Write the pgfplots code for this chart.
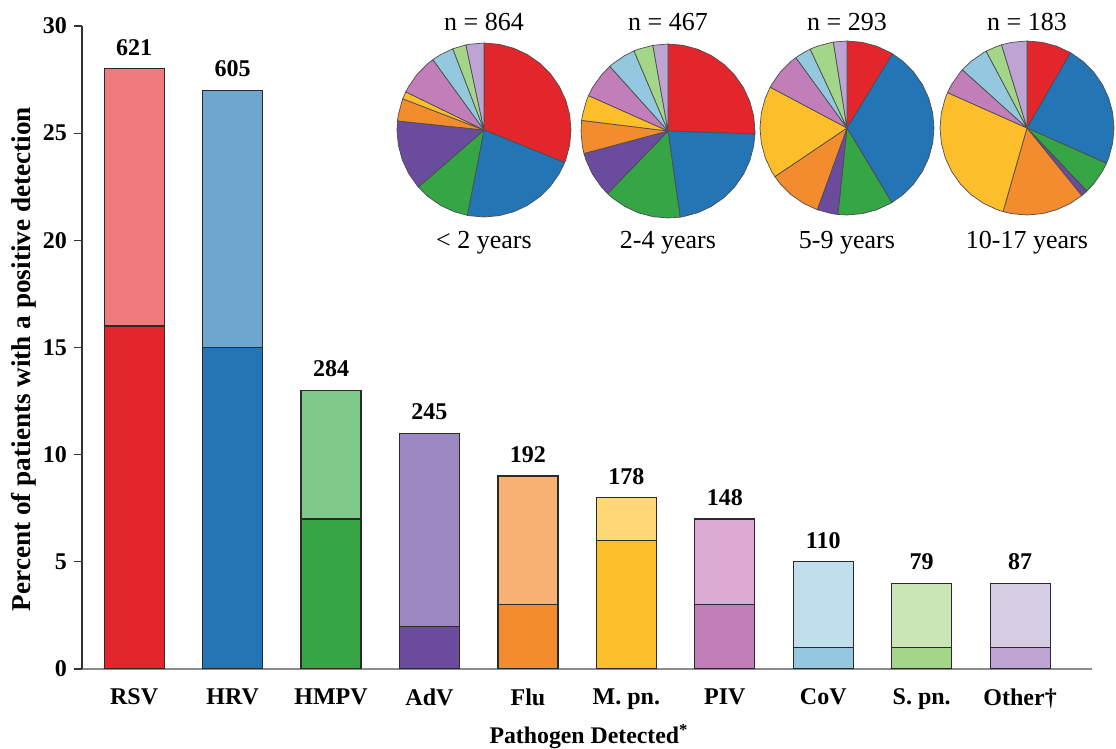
\documentclass[border=0pt]{standalone}
\usepackage{fontspec}
\setmainfont{Liberation Serif}
\usepackage{pgfplots}
\pgfplotsset{compat=1.18}
\usepgfplotslibrary{polar}

\definecolor{rsvD}{HTML}{E3262B}\definecolor{rsvL}{HTML}{EF7B7E}
\definecolor{hrvD}{HTML}{2475B5}\definecolor{hrvL}{HTML}{6EA6D0}
\definecolor{hmpD}{HTML}{35A546}\definecolor{hmpL}{HTML}{7FC98A}
\definecolor{advD}{HTML}{6A4B9E}\definecolor{advL}{HTML}{9C87C2}
\definecolor{fluD}{HTML}{F28C2E}\definecolor{fluL}{HTML}{F8B074}
\definecolor{mpnD}{HTML}{FDBE2C}\definecolor{mpnL}{HTML}{FED877}
\definecolor{pivD}{HTML}{C27EB9}\definecolor{pivL}{HTML}{DCAAD5}
\definecolor{covD}{HTML}{93C8DF}\definecolor{covL}{HTML}{C0DEEB}
\definecolor{spnD}{HTML}{A4D68A}\definecolor{spnL}{HTML}{CBE6B6}
\definecolor{othD}{HTML}{BDA4D2}\definecolor{othL}{HTML}{D6CCE4}
\definecolor{barline}{HTML}{2A2A2A}

\pgfplotsset{
  tot/.style={ybar, bar width=0.61, bar shift=0pt, draw=barline, line width=0.6pt,
    nodes near coords, point meta=explicit symbolic,
    every node near coord/.append style={font=\fontsize{12}{14}\selectfont\bfseries, yshift=3pt}},
  bot/.style={ybar, bar width=0.61, bar shift=0pt, draw=barline, line width=0.6pt},
  wedge/.style={draw=black!70, line width=0.35pt, line join=round, mark=none},
  pie/.style={scale only axis, width=87pt, height=87pt, anchor=center,
    xmin=0, xmax=360, ymin=0, ymax=1, hide axis, clip=false},
}

\begin{document}
\begin{tikzpicture}
\path[use as bounding box] (-41pt,-40pt) rectangle (517pt,334.5pt);
\begin{axis}[
  at={(0,0)}, anchor=south west,
  scale only axis, width=505pt, height=321.5pt,
  xmin=-0.53, xmax=9.73, ymin=0, ymax=30,
  axis x line*=bottom, axis y line*=left,
  axis line style={-},
  x axis line style={draw=black!45, line width=0.8pt},
  y axis line style={draw=black!80, line width=0.6pt},
  xtick={0,...,9},
  xticklabels={RSV,HRV,HMPV,AdV,Flu,M. pn.,PIV,CoV,S. pn.,Other†},
  x tick style={draw=none},
  ytick={0,5,...,30},
  tick align=outside, major tick length=4pt,
  y tick style={draw=black!80, line width=0.6pt},
  /pgf/number format/assume math mode=true,
  ticklabel style={font=\fontsize{12}{14}\selectfont\bfseries},
  x tick label style={yshift=-2.5pt},
  ylabel={Percent of patients with a positive detection},
  xlabel={Pathogen Detected\textsuperscript{*}},
  y label style={at={(axis description cs:-0.0574,0.482)}, anchor=center, font=\fontsize{13.6}{15}\selectfont\bfseries},
  x label style={at={(axis description cs:0.502,-0.105)}, anchor=center, font=\fontsize{11.9}{14}\selectfont\bfseries},
]
% totals (light) with counts
\addplot[tot, fill=rsvL] coordinates {(0,28) [621]};
\addplot[tot, fill=hrvL] coordinates {(1,27) [605]};
\addplot[tot, fill=hmpL] coordinates {(2,13) [284]};
\addplot[tot, fill=advL] coordinates {(3,11) [245]};
\addplot[tot, fill=fluL] coordinates {(4,9) [192]};
\addplot[tot, fill=mpnL] coordinates {(5,8) [178]};
\addplot[tot, fill=pivL] coordinates {(6,7) [148]};
\addplot[tot, fill=covL] coordinates {(7,5) [110]};
\addplot[tot, fill=spnL] coordinates {(8,4) [79]};
\addplot[tot, fill=othL] coordinates {(9,4) [87]};
% lower (dark) segments
\addplot[bot, fill=rsvD] coordinates {(0,16)};
\addplot[bot, fill=hrvD] coordinates {(1,15)};
\addplot[bot, fill=hmpD] coordinates {(2,7)};
\addplot[bot, fill=advD] coordinates {(3,2)};
\addplot[bot, fill=fluD] coordinates {(4,3)};
\addplot[bot, fill=mpnD] coordinates {(5,6)};
\addplot[bot, fill=pivD] coordinates {(6,3)};
\addplot[bot, fill=covD] coordinates {(7,1)};
\addplot[bot, fill=spnD] coordinates {(8,1)};
\addplot[bot, fill=othD] coordinates {(9,1)};
\end{axis}

% Pie 1: < 2 years
\begin{polaraxis}[pie, at={(201pt,269.5pt)}]
\addplot[wedge, fill=rsvD] coordinates {(0,0) (90,1)(80,1)(70,1)(60,1)(50,1)(40,1)(30,1)(20,1)(10,1)(0,1)(350,1)(340,1)(338,1) (0,0)};
\addplot[wedge, fill=hrvD] coordinates {(0,0) (338,1)(330,1)(320,1)(310,1)(300,1)(290,1)(280,1)(270,1)(260,1)(259,1) (0,0)};
\addplot[wedge, fill=hmpD] coordinates {(0,0) (259,1)(250,1)(240,1)(230,1)(221,1) (0,0)};
\addplot[wedge, fill=advD] coordinates {(0,0) (221,1)(220,1)(210,1)(200,1)(190,1)(180,1)(174,1) (0,0)};
\addplot[wedge, fill=fluD] coordinates {(0,0) (174,1)(170,1)(160,1)(159,1) (0,0)};
\addplot[wedge, fill=mpnD] coordinates {(0,0) (159,1)(154,1) (0,0)};
\addplot[wedge, fill=pivD] coordinates {(0,0) (154,1)(150,1)(140,1)(130,1)(126,1) (0,0)};
\addplot[wedge, fill=covD] coordinates {(0,0) (126,1)(120,1)(111,1) (0,0)};
\addplot[wedge, fill=spnD] coordinates {(0,0) (111,1)(102,1) (0,0)};
\addplot[wedge, fill=othD] coordinates {(0,0) (102,1)(100,1)(90,1) (0,0)};
\end{polaraxis}

% Pie 2: 2-4 years
\begin{polaraxis}[pie, at={(293pt,269pt)}]
\addplot[wedge, fill=rsvD] coordinates {(0,0) (90,1)(80,1)(70,1)(60,1)(50,1)(40,1)(30,1)(20,1)(10,1)(0,1)(358,1) (0,0)};
\addplot[wedge, fill=hrvD] coordinates {(0,0) (358,1)(350,1)(340,1)(330,1)(320,1)(310,1)(300,1)(290,1)(280,1)(278,1) (0,0)};
\addplot[wedge, fill=hmpD] coordinates {(0,0) (278,1)(270,1)(260,1)(250,1)(240,1)(230,1)(226,1) (0,0)};
\addplot[wedge, fill=advD] coordinates {(0,0) (226,1)(220,1)(210,1)(200,1)(195,1) (0,0)};
\addplot[wedge, fill=fluD] coordinates {(0,0) (195,1)(190,1)(180,1)(173,1) (0,0)};
\addplot[wedge, fill=mpnD] coordinates {(0,0) (173,1)(170,1)(160,1)(156,1) (0,0)};
\addplot[wedge, fill=pivD] coordinates {(0,0) (156,1)(150,1)(140,1)(132,1) (0,0)};
\addplot[wedge, fill=covD] coordinates {(0,0) (132,1)(130,1)(120,1)(113,1) (0,0)};
\addplot[wedge, fill=spnD] coordinates {(0,0) (113,1)(110,1)(100,1) (0,0)};
\addplot[wedge, fill=othD] coordinates {(0,0) (100,1)(90,1) (0,0)};
\end{polaraxis}

% Pie 3: 5-9 years
\begin{polaraxis}[pie, at={(382.5pt,270.5pt)}]
\addplot[wedge, fill=rsvD] coordinates {(0,0) (90,1)(80,1)(70,1)(60,1)(58.5,1) (0,0)};
\addplot[wedge, fill=hrvD] coordinates {(0,0) (58.5,1)(50,1)(40,1)(30,1)(20,1)(10,1)(0,1)(350,1)(340,1)(330,1)(320,1)(310,1)(301,1) (0,0)};
\addplot[wedge, fill=hmpD] coordinates {(0,0) (301,1)(300,1)(290,1)(280,1)(270,1)(264,1) (0,0)};
\addplot[wedge, fill=advD] coordinates {(0,0) (264,1)(260,1)(250,1) (0,0)};
\addplot[wedge, fill=fluD] coordinates {(0,0) (250,1)(240,1)(230,1)(220,1)(214,1) (0,0)};
\addplot[wedge, fill=mpnD] coordinates {(0,0) (214,1)(210,1)(200,1)(190,1)(180,1)(170,1)(160,1)(152,1) (0,0)};
\addplot[wedge, fill=pivD] coordinates {(0,0) (152,1)(150,1)(140,1)(130,1)(126,1) (0,0)};
\addplot[wedge, fill=covD] coordinates {(0,0) (126,1)(120,1)(115,1) (0,0)};
\addplot[wedge, fill=spnD] coordinates {(0,0) (115,1)(110,1)(100,1)(99,1) (0,0)};
\addplot[wedge, fill=othD] coordinates {(0,0) (99,1)(90,1) (0,0)};
\end{polaraxis}

% Pie 4: 10-17 years
\begin{polaraxis}[pie, at={(472.5pt,270.5pt)}]
\addplot[wedge, fill=rsvD] coordinates {(0,0) (90,1)(80,1)(70,1)(60,1) (0,0)};
\addplot[wedge, fill=hrvD] coordinates {(0,0) (60,1)(50,1)(40,1)(30,1)(20,1)(10,1)(0,1)(350,1)(340,1)(336,1) (0,0)};
\addplot[wedge, fill=hmpD] coordinates {(0,0) (336,1)(330,1)(320,1)(313.5,1) (0,0)};
\addplot[wedge, fill=advD] coordinates {(0,0) (313.5,1)(309,1) (0,0)};
\addplot[wedge, fill=fluD] coordinates {(0,0) (309,1)(300,1)(290,1)(280,1)(270,1)(260,1)(254,1) (0,0)};
\addplot[wedge, fill=mpnD] coordinates {(0,0) (254,1)(250,1)(240,1)(230,1)(220,1)(210,1)(200,1)(190,1)(180,1)(170,1)(160,1)(156,1) (0,0)};
\addplot[wedge, fill=pivD] coordinates {(0,0) (156,1)(150,1)(140,1)(138,1) (0,0)};
\addplot[wedge, fill=covD] coordinates {(0,0) (138,1)(130,1)(120,1)(118,1) (0,0)};
\addplot[wedge, fill=spnD] coordinates {(0,0) (118,1)(110,1)(107,1) (0,0)};
\addplot[wedge, fill=othD] coordinates {(0,0) (107,1)(100,1)(90,1) (0,0)};
\end{polaraxis}

\begin{scope}[every node/.style={font=\fontsize{13}{15}\selectfont}]
\node at (201pt,323.5pt) {n = 864};
\node at (293pt,323.5pt) {n = 467};
\node at (382.5pt,323.5pt) {n = 293};
\node at (472.5pt,323.5pt) {n = 183};
\node at (201pt,213pt) {< 2 years};
\node at (293pt,213pt) {2-4 years};
\node at (382.5pt,213pt) {5-9 years};
\node at (472.5pt,213pt) {10-17 years};
\end{scope}
\end{tikzpicture}
\end{document}
